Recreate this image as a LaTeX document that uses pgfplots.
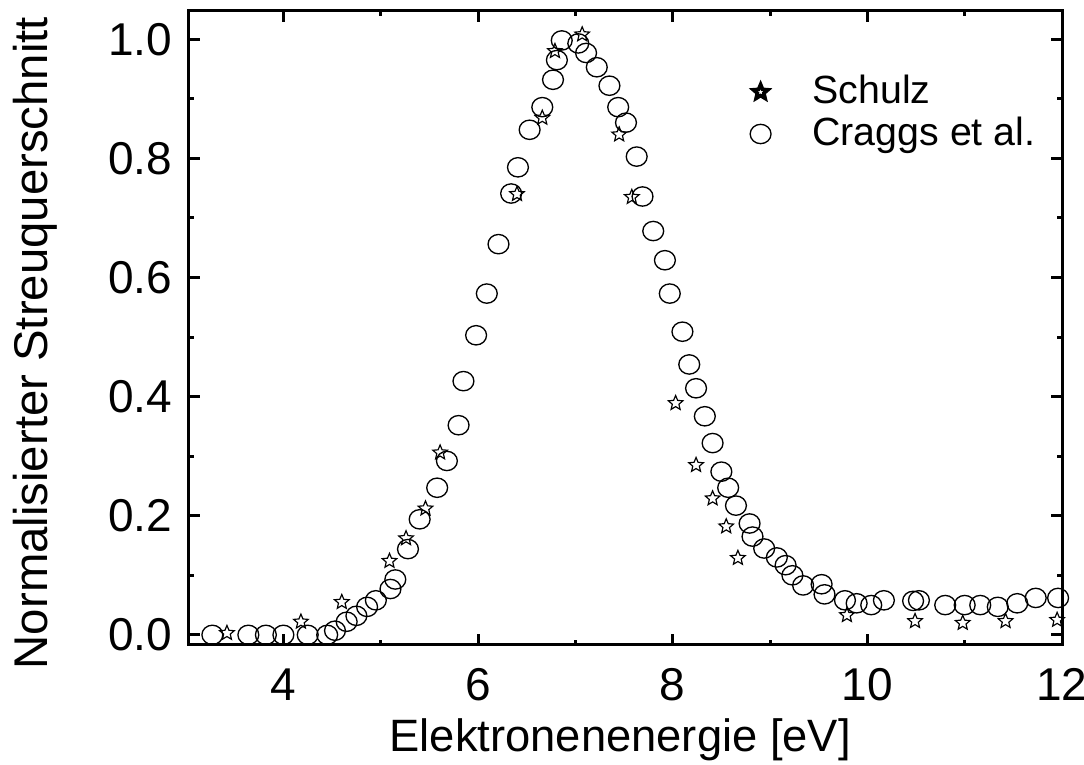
\documentclass[border=0pt]{standalone}
\usepackage{fontspec}
\setmainfont{Liberation Sans}
\usepackage{pgfplots}
\pgfplotsset{compat=1.18}

% open five-pointed star
\pgfdeclareplotmark{ostar}{%
  \pgfpathmoveto{\pgfpointpolar{90}{\pgfplotmarksize}}%
  \pgfpathlineto{\pgfpointpolar{126}{0.45\pgfplotmarksize}}%
  \pgfpathlineto{\pgfpointpolar{162}{\pgfplotmarksize}}%
  \pgfpathlineto{\pgfpointpolar{198}{0.45\pgfplotmarksize}}%
  \pgfpathlineto{\pgfpointpolar{234}{\pgfplotmarksize}}%
  \pgfpathlineto{\pgfpointpolar{270}{0.45\pgfplotmarksize}}%
  \pgfpathlineto{\pgfpointpolar{306}{\pgfplotmarksize}}%
  \pgfpathlineto{\pgfpointpolar{342}{0.45\pgfplotmarksize}}%
  \pgfpathlineto{\pgfpointpolar{18}{\pgfplotmarksize}}%
  \pgfpathlineto{\pgfpointpolar{54}{0.45\pgfplotmarksize}}%
  \pgfpathclose
  \pgfusepathqstroke}

\begin{document}
\begin{tikzpicture}
\begin{axis}[
  scale only axis,
  width=261.9pt, height=190.3pt,
  xmin=3.03, xmax=12,
  ymin=-0.017, ymax=1.048,
  xtick={4,6,8,10,12},
  minor xtick={3,5,7,9,11},
  ytick={0,0.2,0.4,0.6,0.8,1.0},
  minor ytick={0.1,0.3,0.5,0.7,0.9},
  tick align=inside,
  major tick length=3.3pt,
  minor tick length=1.6pt,
  axis line style={line width=0.9pt},
  every tick/.style={black, line width=0.9pt},
  /pgf/number format/assume math mode=true,
  yticklabel style={/pgf/number format/fixed, /pgf/number format/fixed zerofill,
    /pgf/number format/precision=1, font=\fontsize{13.8}{16}\selectfont, xshift=-1.5pt},
  xticklabel style={font=\fontsize{13.8}{16}\selectfont, yshift=-3.5pt},
  xlabel={Elektronenenergie [eV]},
  ylabel={Normalisierter Streuquerschnitt},
  xlabel style={font=\fontsize{13.6}{16}\selectfont,
    at={(axis description cs:0.494,-0.150)}, anchor=center},
  ylabel style={font=\fontsize{14.2}{16}\selectfont,
    at={(axis description cs:-0.176,0.476)}, anchor=center},
  legend cell align=left,
  legend style={draw=none, fill=none, at={(0.629,0.92)}, anchor=north west,
    font=\fontsize{11.8}{14}\selectfont, row sep=-1.5pt},
  legend image code/.code={\path (0pt,0pt) (16pt,0pt);
    \draw plot coordinates {(3pt,0pt)};},
]
\addplot[only marks, mark=ostar, mark size=2.3pt, line width=0.35pt,
  legend image post style={line width=1.1pt}] coordinates {
  (3.02,0.003) (3.42,0.003) (4.18,0.022) (4.60,0.055) (5.09,0.124)
  (5.26,0.162) (5.46,0.212) (5.61,0.306) (6.40,0.740) (6.66,0.868)
  (6.79,0.980) (7.07,1.008) (7.45,0.840) (7.58,0.735) (8.03,0.389)
  (8.24,0.285) (8.41,0.229) (8.55,0.182) (8.67,0.129) (9.79,0.033)
  (10.49,0.023) (10.98,0.020) (11.42,0.023) (11.95,0.025)
};
\addlegendentry{Schulz}
\addplot[only marks, mark=o, mark size=2.9pt, line width=0.4pt,
  mark options={xscale=1.08}] coordinates {
  (3.27,0.0) (3.64,0.0) (3.82,0.0) (4.00,0.0) (4.25,0.0) (4.45,0.0)
  (4.53,0.007) (4.65,0.022) (4.75,0.032) (4.86,0.047) (4.95,0.058)
  (5.10,0.077) (5.15,0.093) (5.28,0.144) (5.40,0.194) (5.58,0.247)
  (5.68,0.292) (5.80,0.352) (5.85,0.426) (5.98,0.503) (6.09,0.573)
  (6.21,0.656) (6.34,0.741) (6.41,0.785) (6.53,0.848) (6.66,0.886)
  (6.77,0.932) (6.81,0.965) (6.86,0.998) (7.03,0.993) (7.11,0.977)
  (7.22,0.953) (7.35,0.922) (7.44,0.886) (7.52,0.860) (7.63,0.803)
  (7.69,0.736) (7.80,0.678) (7.92,0.629) (7.97,0.573) (8.10,0.509)
  (8.17,0.454) (8.24,0.414) (8.33,0.367) (8.41,0.322) (8.50,0.274)
  (8.57,0.247) (8.65,0.217) (8.79,0.187) (8.82,0.165) (8.94,0.145)
  (9.07,0.130) (9.16,0.117) (9.23,0.100) (9.34,0.083) (9.53,0.085)
  (9.56,0.068) (9.77,0.058) (9.89,0.053) (10.04,0.050) (10.17,0.058)
  (10.47,0.057) (10.53,0.058) (10.80,0.050) (11.00,0.050) (11.16,0.050)
  (11.34,0.047) (11.54,0.053) (11.73,0.062) (11.96,0.062)
};
\addlegendentry{Craggs et al.}
\end{axis}
\path (current axis.south west) ++(-56.7pt,-36pt) coordinate (bl);
\path (current axis.north east) ++(6.6pt,3.2pt) coordinate (tr);
\pgfresetboundingbox
\path[use as bounding box] (bl) rectangle (tr);
\end{tikzpicture}
\end{document}
